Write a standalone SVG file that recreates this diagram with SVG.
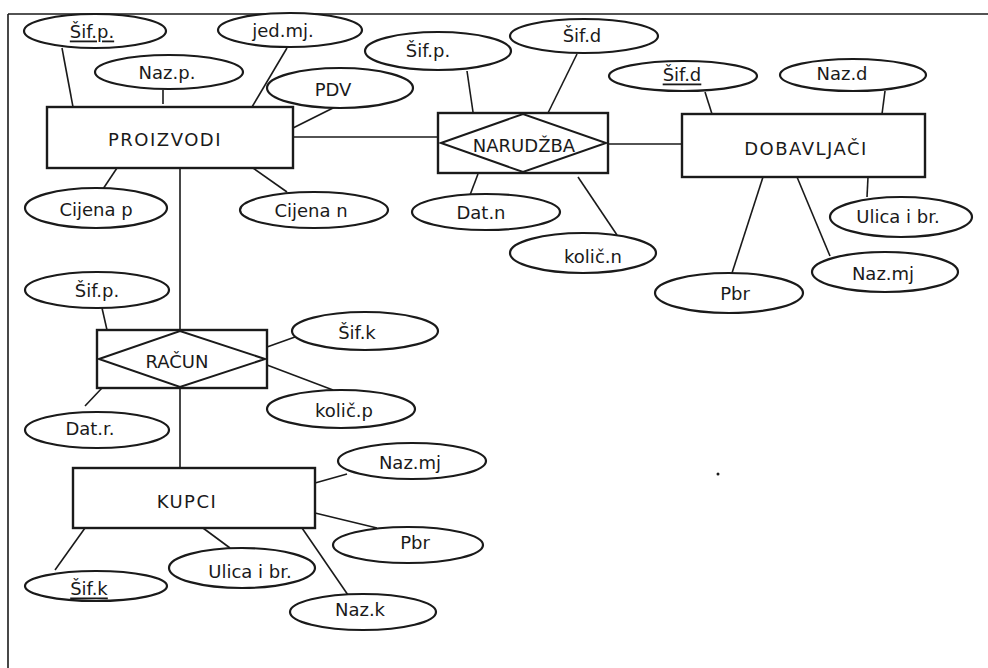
<svg xmlns="http://www.w3.org/2000/svg" width="988" height="668" viewBox="0 0 988 668">
<style>
.attr{fill:#ffffff;stroke:#1a1a1a;stroke-width:2.2}
.ent{fill:#ffffff;stroke:#1a1a1a;stroke-width:2.4}
.rel{fill:none;stroke:#1a1a1a;stroke-width:2}
.ln{stroke:#1a1a1a;stroke-width:1.6;fill:none}
text{font-family:"DejaVu Sans","Liberation Sans",sans-serif;font-size:18px;fill:#1a1a1a;text-anchor:middle;dominant-baseline:central}
.big{letter-spacing:1.5px}
.key{text-decoration:underline}
</style>
<rect width="988" height="668" fill="#ffffff"/>
<g id="frame">
<line class="ln" x1="8" y1="14" x2="988" y2="14" stroke-width="2"/>
<line class="ln" x1="8" y1="14" x2="8" y2="668" stroke-width="2"/>
</g>
<g id="connectors">
<line class="ln" x1="62" y1="48" x2="73" y2="107"/>
<line class="ln" x1="163" y1="90" x2="163" y2="104"/>
<line class="ln" x1="287" y1="48" x2="252" y2="107"/>
<line class="ln" x1="335" y1="107" x2="293" y2="128"/>
<line class="ln" x1="293" y1="137" x2="438" y2="137"/>
<line class="ln" x1="117" y1="168" x2="103" y2="189"/>
<line class="ln" x1="253" y1="168" x2="287" y2="192"/>
<line class="ln" x1="180" y1="168" x2="180" y2="330"/>
<line class="ln" x1="180" y1="388" x2="180" y2="468"/>
<line class="ln" x1="467" y1="71" x2="473" y2="112"/>
<line class="ln" x1="577" y1="54" x2="548" y2="113"/>
<line class="ln" x1="608" y1="144" x2="682" y2="144"/>
<line class="ln" x1="478" y1="174" x2="470" y2="195"/>
<line class="ln" x1="578" y1="177" x2="617" y2="235"/>
<line class="ln" x1="705" y1="92" x2="712" y2="114"/>
<line class="ln" x1="885" y1="91" x2="882" y2="114"/>
<line class="ln" x1="868" y1="177" x2="867" y2="197"/>
<line class="ln" x1="797" y1="177" x2="830" y2="256"/>
<line class="ln" x1="763" y1="177" x2="732" y2="273"/>
<line class="ln" x1="102" y1="308" x2="107" y2="330"/>
<line class="ln" x1="267" y1="347" x2="295" y2="337"/>
<line class="ln" x1="267" y1="365" x2="333" y2="390"/>
<line class="ln" x1="102" y1="388" x2="85" y2="406"/>
<line class="ln" x1="315" y1="483" x2="347" y2="474"/>
<line class="ln" x1="315" y1="513" x2="377" y2="528"/>
<line class="ln" x1="203" y1="528" x2="230" y2="548"/>
<line class="ln" x1="85" y1="528" x2="55" y2="570"/>
<line class="ln" x1="302" y1="528" x2="348" y2="595"/>
</g>
<g id="PROIZVODI">
<rect class="ent" x="47" y="107" width="246" height="61"/>
<text class="big" x="165" y="139">PROIZVODI</text>
</g>
<g id="sifp1"><ellipse class="attr" cx="95" cy="31" rx="71" ry="17"/><text class="key" x="92" y="31">Šif.p.</text></g>
<g id="nazp"><ellipse class="attr" cx="169" cy="72" rx="74" ry="17"/><text x="167" y="72">Naz.p.</text></g>
<g id="jedmj"><ellipse class="attr" cx="290" cy="30" rx="72" ry="17"/><text x="283" y="30">jed.mj.</text></g>
<g id="pdv"><ellipse class="attr" cx="340" cy="88" rx="73" ry="20"/><text x="333" y="89">PDV</text></g>
<g id="cijenap"><ellipse class="attr" cx="96" cy="208" rx="71" ry="20"/><text x="96" y="209">Cijena p</text></g>
<g id="cijenan"><ellipse class="attr" cx="314" cy="210" rx="74" ry="18"/><text x="311" y="210">Cijena n</text></g>
<g id="NARUDZBA">
<rect class="ent" x="438" y="113" width="170" height="60"/>
<polygon class="rel" points="441,143 523,114 606,143 523,172"/>
<text x="524" y="145">NARUDŽBA</text>
</g>
<g id="sifp2"><ellipse class="attr" cx="438" cy="51" rx="73" ry="19"/><text x="428" y="50">Šif.p.</text></g>
<g id="sifd1"><ellipse class="attr" cx="584" cy="36" rx="74" ry="17"/><text x="582" y="35">Šif.d</text></g>
<g id="datn"><ellipse class="attr" cx="486" cy="212" rx="74" ry="18"/><text x="481" y="212">Dat.n</text></g>
<g id="kolicn"><ellipse class="attr" cx="583" cy="253" rx="73" ry="20"/><text x="593" y="256">količ.n</text></g>
<g id="DOBAVLJACI">
<rect class="ent" x="682" y="114" width="243" height="63"/>
<text class="big" x="806" y="148">DOBAVLJAČI</text>
</g>
<g id="sifd2"><ellipse class="attr" cx="683" cy="76" rx="74" ry="15"/><text class="key" x="682" y="74">Šif.d</text></g>
<g id="nazd"><ellipse class="attr" cx="853" cy="75" rx="73" ry="16"/><text x="842" y="73">Naz.d</text></g>
<g id="ulica1"><ellipse class="attr" cx="901" cy="217" rx="71" ry="20"/><text x="898" y="216">Ulica i br.</text></g>
<g id="nazmj1"><ellipse class="attr" cx="885" cy="272" rx="73" ry="20"/><text x="883" y="273">Naz.mj</text></g>
<g id="pbr1"><ellipse class="attr" cx="729" cy="293" rx="74" ry="20"/><text x="735" y="293">Pbr</text></g>
<g id="RACUN">
<rect class="ent" x="97" y="330" width="170" height="58"/>
<polygon class="rel" points="99,359 180,331 265,359 180,387"/>
<text x="177" y="361">RAČUN</text>
</g>
<g id="sifp3"><ellipse class="attr" cx="97" cy="290" rx="72" ry="18"/><text x="97" y="290">Šif.p.</text></g>
<g id="sifk1"><ellipse class="attr" cx="365" cy="331" rx="73" ry="19"/><text x="357" y="332">Šif.k</text></g>
<g id="kolicp"><ellipse class="attr" cx="341" cy="409" rx="74" ry="19"/><text x="344" y="410">količ.p</text></g>
<g id="datr"><ellipse class="attr" cx="97" cy="430" rx="72" ry="18"/><text x="90" y="428">Dat.r.</text></g>
<g id="KUPCI">
<rect class="ent" x="73" y="468" width="242" height="60"/>
<text class="big" x="187" y="501">KUPCI</text>
</g>
<g id="nazmj2"><ellipse class="attr" cx="412" cy="461" rx="74" ry="18"/><text x="410" y="462">Naz.mj</text></g>
<g id="pbr2"><ellipse class="attr" cx="408" cy="545" rx="75" ry="18"/><text x="415" y="542">Pbr</text></g>
<g id="ulica2"><ellipse class="attr" cx="242" cy="568" rx="73" ry="20"/><text x="250" y="571">Ulica i br.</text></g>
<g id="sifk2"><ellipse class="attr" cx="96" cy="586" rx="71" ry="15"/><text class="key" x="89" y="588">Šif.k</text></g>
<g id="nazk"><ellipse class="attr" cx="363" cy="612" rx="73" ry="18"/><text x="360" y="609">Naz.k</text></g>
<circle cx="718" cy="474" r="1.5" fill="#1a1a1a"/>
</svg>
